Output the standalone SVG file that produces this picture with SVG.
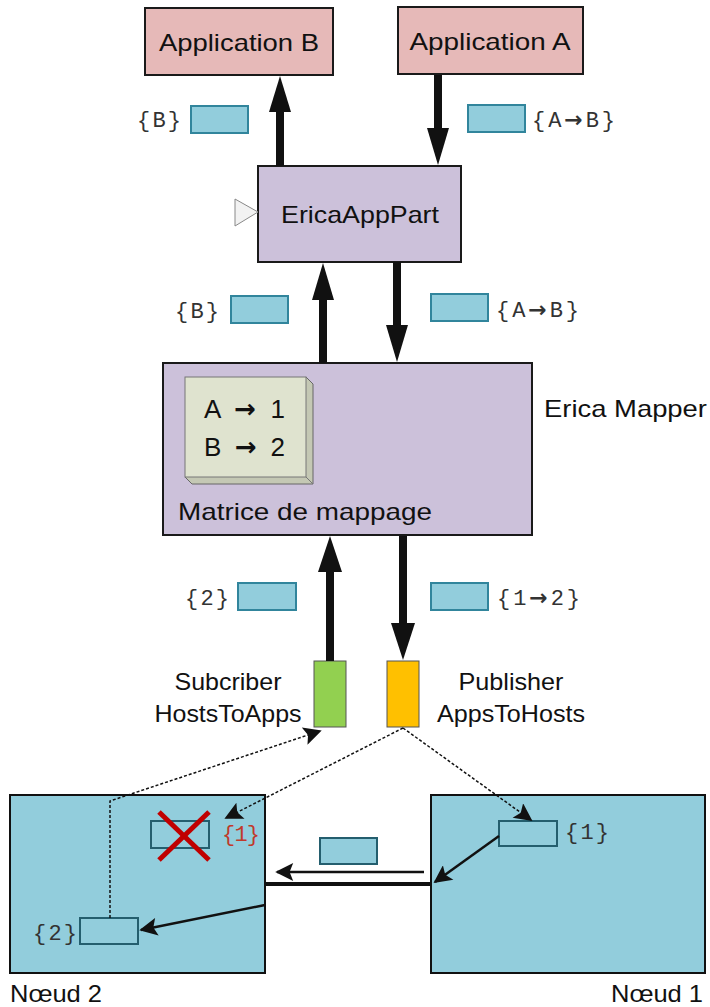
<svg xmlns="http://www.w3.org/2000/svg" width="710" height="1007" viewBox="0 0 710 1007">
<defs>
<style>
.app{fill:#e6b9b8;stroke:#1a1a1a;stroke-width:2}
.erica{fill:#ccc1da;stroke:#1a1a1a;stroke-width:2}
.msg{fill:#92cddc;stroke:#31859c;stroke-width:2}
.msg2{fill:#92cddc;stroke:#245e6e;stroke-width:2}
.node{fill:#92cddc;stroke:#111;stroke-width:2}
.lbl{font-family:"Liberation Sans",Arial,sans-serif;font-size:24px;fill:#111}
.mono{font-family:"Liberation Mono","Courier New",monospace;font-size:22px;fill:#333}
.arr{font-family:"DejaVu Sans",sans-serif;font-weight:bold}
.thick{stroke:#111;stroke-width:8;fill:none}
.thin{stroke:#111;stroke-width:2.5;fill:none}
.dot{stroke:#111;stroke-width:1.5;stroke-dasharray:3 2;fill:none}
</style>
<marker id="ahs" viewBox="0 0 10 10" refX="9" refY="5" markerWidth="22" markerHeight="18" orient="auto" markerUnits="userSpaceOnUse">
<path d="M0,0 L10,5 L0,10 L2,5 z" fill="#111"/>
</marker>
</defs>

<g id="appB">
<rect class="app" x="145" y="8" width="188" height="67"/>
<text class="lbl" x="239" y="51" text-anchor="middle" textLength="160" lengthAdjust="spacingAndGlyphs">Application B</text>
</g>
<g id="appA">
<rect class="app" x="398" y="7" width="185" height="67"/>
<text class="lbl" x="490" y="50" text-anchor="middle" textLength="161" lengthAdjust="spacingAndGlyphs">Application A</text>
</g>

<g id="msgB1">
<rect class="msg" x="191" y="106" width="57" height="27"/>
<text class="mono" x="137" y="127" textLength="44" lengthAdjust="spacing">{B}</text>
</g>
<g id="msgAB1">
<rect class="msg" x="468" y="105" width="57" height="27"/>
<text class="mono" x="532" y="127" textLength="83" lengthAdjust="spacing">{A<tspan class="arr">→</tspan>B}</text>
</g>

<g id="ericaAppPart">
<rect class="erica" x="258" y="166" width="203" height="96"/>
<path d="M235,199 L258,212 L235,226 z" fill="#f2f2f2" stroke="#888" stroke-width="1"/>
<text class="lbl" x="360" y="223" text-anchor="middle" textLength="158" lengthAdjust="spacingAndGlyphs">EricaAppPart</text>
</g>

<g id="msgB2">
<rect class="msg" x="231" y="296" width="57" height="27"/>
<text class="mono" x="175" y="318" textLength="44" lengthAdjust="spacing">{B}</text>
</g>
<g id="msgAB2">
<rect class="msg" x="431" y="294" width="57" height="27"/>
<text class="mono" x="496" y="317" textLength="83" lengthAdjust="spacing">{A<tspan class="arr">→</tspan>B}</text>
</g>

<g id="ericaMapper">
<rect class="erica" x="163" y="363" width="369" height="172"/>
<text class="lbl" x="544" y="417" textLength="163" lengthAdjust="spacingAndGlyphs">Erica Mapper</text>
<path d="M306,377 L313,384 L313,484 L192,484 L185,477 z" fill="#c4c8b4" stroke="#666" stroke-width="1"/>
<rect x="185" y="377" width="121" height="100" fill="#dfe3cf" stroke="#777" stroke-width="1"/>
<line x1="306" y1="477" x2="313" y2="484" stroke="#777" stroke-width="1"/>
<text class="lbl" x="204" y="418" style="font-size:26px" textLength="81" lengthAdjust="spacing">A <tspan class="arr">→</tspan> 1</text>
<text class="lbl" x="204" y="456" style="font-size:26px" textLength="81" lengthAdjust="spacing">B <tspan class="arr">→</tspan> 2</text>
<text class="lbl" x="178" y="520" textLength="254" lengthAdjust="spacingAndGlyphs">Matrice de mappage</text>
</g>

<g id="msg2">
<rect class="msg" x="238" y="583" width="58" height="27"/>
<text class="mono" x="185" y="605" textLength="44" lengthAdjust="spacing">{2}</text>
</g>
<g id="msg12">
<rect class="msg" x="431" y="583" width="57" height="27"/>
<text class="mono" x="497" y="605" textLength="83" lengthAdjust="spacing">{1<tspan class="arr">→</tspan>2}</text>
</g>

<g id="subscriber">
<rect x="314" y="661" width="32" height="66" fill="#92d050" stroke="#555" stroke-width="1"/>
<text class="lbl" x="228" y="690" text-anchor="middle" textLength="107" lengthAdjust="spacingAndGlyphs">Subcriber</text>
<text class="lbl" x="228" y="722" text-anchor="middle" textLength="147" lengthAdjust="spacingAndGlyphs">HostsToApps</text>
</g>
<g id="publisher">
<rect x="387" y="661" width="32" height="66" fill="#ffc000" stroke="#555" stroke-width="1"/>
<text class="lbl" x="511" y="690" text-anchor="middle" textLength="105" lengthAdjust="spacingAndGlyphs">Publisher</text>
<text class="lbl" x="511" y="722" text-anchor="middle" textLength="148" lengthAdjust="spacingAndGlyphs">AppsToHosts</text>
</g>

<g id="noeud2">
<rect class="node" x="10" y="795" width="255" height="178"/>
<rect class="msg2" x="151" y="821" width="58" height="27" fill="none"/>
<line x1="159" y1="812" x2="209" y2="860" stroke="#c00000" stroke-width="5"/>
<line x1="209" y1="812" x2="159" y2="860" stroke="#c00000" stroke-width="5"/>
<text class="mono" x="222" y="841" textLength="38" lengthAdjust="spacing" style="fill:#c0392b">{1}</text>
<rect class="msg2" x="80" y="918" width="58" height="26"/>
<text class="mono" x="33" y="940" textLength="44" lengthAdjust="spacing">{2}</text>
<text class="lbl" x="10" y="1002" textLength="92" lengthAdjust="spacingAndGlyphs">Nœud 2</text>
</g>

<g id="netmsg">
<rect class="msg2" x="320" y="838" width="57" height="26"/>
</g>

<g id="noeud1">
<rect class="node" x="431" y="795" width="274" height="178"/>
<rect class="msg2" x="499" y="821" width="58" height="25"/>
<text class="mono" x="565" y="839" textLength="44" lengthAdjust="spacing">{1}</text>
<text class="lbl" x="611" y="1002" textLength="92" lengthAdjust="spacingAndGlyphs">Nœud 1</text>
</g>

<g id="connectors">
<line class="thick" x1="280" y1="166" x2="280" y2="110"/>
<path d="M269,112 L280,76 L291,112 z" fill="#111"/>
<line class="thick" x1="438" y1="75" x2="438" y2="130"/>
<path d="M427,128 L438,165 L449,128 z" fill="#111"/>
<line class="thick" x1="323" y1="363" x2="323" y2="298"/>
<path d="M312,300 L323,263 L334,300 z" fill="#111"/>
<line class="thick" x1="397" y1="262" x2="397" y2="327"/>
<path d="M386,325 L397,362 L408,325 z" fill="#111"/>
<line class="thick" x1="330" y1="661" x2="330" y2="570"/>
<path d="M318,572 L330,536 L342,572 z" fill="#111"/>
<line class="thick" x1="403" y1="536" x2="403" y2="625"/>
<path d="M391,623 L403,660 L415,623 z" fill="#111"/>
<polyline class="dot" points="110,918 110,801 320,731" marker-end="url(#ahs)"/>
<line class="dot" x1="403" y1="728" x2="226" y2="818" marker-end="url(#ahs)"/>
<line class="dot" x1="403" y1="728" x2="531" y2="820" marker-end="url(#ahs)"/>
<line x1="265" y1="884" x2="431" y2="884" stroke="#111" stroke-width="4"/>
<line class="thin" x1="424" y1="872" x2="277" y2="872" marker-end="url(#ahs)"/>
<line class="thin" x1="499" y1="836" x2="435" y2="882" marker-end="url(#ahs)"/>
<line class="thin" x1="265" y1="905" x2="141" y2="930" marker-end="url(#ahs)"/>
</g>
</svg>
